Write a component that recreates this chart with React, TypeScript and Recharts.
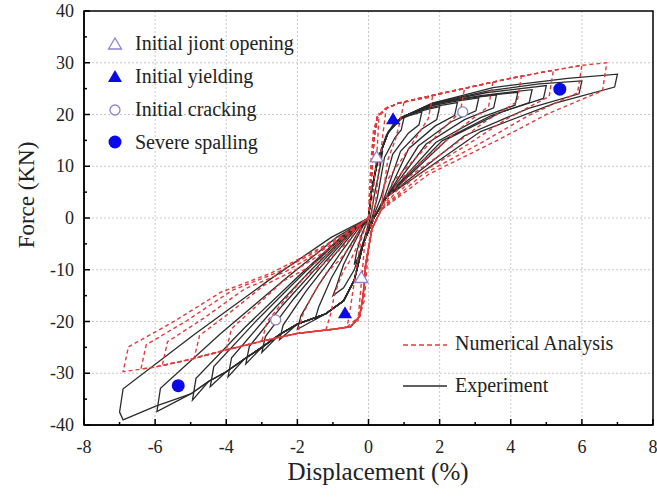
import { ComposedChart, Line, Scatter, XAxis, YAxis, CartesianGrid, ReferenceArea } from "recharts";

type Pt = [number, number];

// experiment cycles (black): origin -> +tip -> origin -> -tip -> origin
const exp0: Pt[] = [[0, 0], [0.1, 6], [0.25, 10.5], [0.4, 13], [0.33, 10], [0.18, 5], [0.05, 0], [-0.12, -4], [-0.28, -7.5], [-0.4, -9], [-0.33, -6.5], [-0.18, -3], [0, 0]];
const exp1: Pt[] = [[0, 0], [0.08, 5], [0.25, 11], [0.5, 16], [0.8, 18.8], [1, 19.5], [0.92, 17], [0.75, 15.6], [0.45, 11.7], [0.25, 4], [0.1, 0], [-0.15, -5], [-0.4, -10], [-0.7, -13.5], [-1, -15], [-0.9, -13.2], [-0.7, -9], [-0.4, -4.8], [-0.15, -1.5], [0, 0]];
const exp2: Pt[] = [[0, 0], [0.08, 5], [0.25, 11], [0.55, 16.5], [0.75, 18.7], [1.2, 19.9], [1.5, 20.5], [1.42, 18], [1.12, 16.4], [0.68, 12.3], [0.35, 4], [0.12, 0], [-0.15, -5], [-0.4, -12], [-0.7, -16], [-1.2, -18.5], [-1.5, -19.5], [-1.4, -17.2], [-1.05, -11.7], [-0.6, -6.2], [-0.22, -2], [0, 0]];
const exp3: Pt[] = [[0, 0], [0.08, 5], [0.25, 11], [0.55, 16.5], [1, 19.7], [1.6, 20.9], [2, 21.5], [1.92, 19], [1.5, 17.2], [0.9, 12.9], [0.45, 4], [0.15, 0], [-0.15, -5], [-0.4, -12], [-0.7, -16], [-1.2, -18.5], [-2, -21.5], [-1.9, -18.9], [-1.4, -12.9], [-0.8, -6.9], [-0.3, -2.2], [0, 0]];
const exp4: Pt[] = [[0, 0], [0.08, 5], [0.25, 11], [0.55, 16.5], [0.9, 19.2], [1.4, 20.8], [2, 21.7], [2.5, 22.3], [2.42, 19.8], [1.88, 17.8], [1.13, 13.4], [0.5, 4], [0.15, 0], [-0.15, -5], [-0.4, -12], [-0.7, -16], [-1.2, -18.5], [-2, -20.5], [-2.5, -23.5], [-2.4, -20.7], [-1.75, -14.1], [-1, -7.5], [-0.38, -2.4], [0, 0]];
const exp5: Pt[] = [[0, 0], [0.08, 5], [0.25, 11], [0.55, 16.5], [0.9, 19.3], [1.6, 21.5], [2.48, 22.6], [3.1, 23.2], [3.02, 20.7], [2.33, 18.6], [1.4, 13.9], [0.5, 4], [0.15, 0], [-0.15, -5], [-0.4, -12], [-0.7, -16], [-1.2, -18.5], [-2, -20.5], [-2.5, -22.5], [-3, -26], [-2.9, -22.9], [-2.1, -15.6], [-1.2, -8.3], [-0.45, -2.6], [0, 0]];
const exp6: Pt[] = [[0, 0], [0.08, 5], [0.25, 11], [0.55, 16.5], [0.9, 19.3], [1.8, 22], [2.88, 23.2], [3.6, 23.8], [3.52, 21.3], [2.7, 19], [1.62, 14.3], [0.5, 4], [0.15, 0], [-0.15, -5], [-0.4, -12], [-0.7, -16], [-1.2, -18.5], [-2, -20.5], [-2.5, -22.5], [-3, -25], [-3.45, -28.2], [-3.35, -24.8], [-2.42, -16.9], [-1.38, -9], [-0.52, -2.8], [0, 0]];
const exp7: Pt[] = [[0, 0], [0.08, 5], [0.25, 11], [0.55, 16.5], [0.9, 19.3], [2.1, 22.5], [3.36, 23.7], [4.2, 24.3], [4.12, 21.8], [3.15, 19.4], [1.89, 14.6], [0.5, 4], [0.15, 0], [-0.15, -5], [-0.4, -12], [-0.7, -16], [-1.2, -18.5], [-2, -20.5], [-2.5, -22.5], [-3, -25], [-3.5, -27.3], [-3.95, -30.7], [-3.85, -27], [-2.77, -18.4], [-1.58, -9.8], [-0.6, -3.1], [0, 0]];
const exp8: Pt[] = [[0, 0], [0.08, 5], [0.25, 11], [0.55, 16.5], [0.9, 19.3], [1.8, 22], [3.1, 23.6], [4.6, 24.8], [4.52, 22.3], [3.45, 19.8], [2.07, 14.9], [0.5, 4], [0.15, 0], [-0.15, -5], [-0.4, -12], [-0.7, -16], [-1.2, -18.5], [-2, -20.5], [-2.5, -22.5], [-3, -25], [-3.5, -27.3], [-4, -29.7], [-4.45, -32.6], [-4.35, -28.7], [-3.12, -19.6], [-1.78, -10.4], [-0.67, -3.3], [0, 0]];
const exp9: Pt[] = [[0, 0], [0.08, 5], [0.25, 11], [0.55, 16.5], [0.9, 19.3], [1.8, 22.1], [3.3, 24.2], [5, 25.6], [4.92, 23.1], [3.75, 20.5], [2.25, 15.4], [0.5, 4], [0.15, 0], [-0.15, -5], [-0.4, -12], [-0.7, -16], [-1.2, -18.5], [-2, -20.5], [-2.5, -22.5], [-3, -25], [-3.5, -27.3], [-4, -29.7], [-4.5, -31.6], [-4.95, -35.2], [-4.85, -31], [-3.47, -21.1], [-1.98, -11.3], [-0.74, -3.5], [0, 0]];
const exp10: Pt[] = [[0, 0], [0.08, 5], [0.25, 11], [0.55, 16.5], [0.9, 19.3], [1.8, 22.2], [3.4, 24.6], [4.8, 25.9], [6, 26.5], [5.92, 24], [4.5, 21.2], [2.7, 15.9], [0.5, 4], [0.15, 0], [-0.15, -5], [-0.4, -12], [-0.7, -16], [-1.2, -18.5], [-2, -20.5], [-2.5, -22.5], [-3, -25], [-3.5, -27.3], [-4, -29.7], [-4.5, -31.6], [-5, -34], [-5.95, -37.4], [-5.85, -32.9], [-4.17, -22.4], [-2.38, -12], [-0.89, -3.7], [0, 0]];
const exp11: Pt[] = [[0, 0], [0.08, 5], [0.25, 11], [0.55, 16.5], [0.9, 19.3], [1.8, 22.2], [3.5, 25.2], [5.6, 27], [7, 27.8], [6.92, 25.3], [5.25, 22.2], [3.15, 16.7], [0.5, 4], [0.15, 0], [-0.15, -5], [-0.4, -12], [-0.7, -16], [-1.2, -18.5], [-2, -20.5], [-2.5, -22.5], [-3, -25], [-3.5, -27.3], [-4, -29.7], [-4.5, -31.6], [-5, -34], [-6, -36.4], [-6.9, -39], [-7, -37.5], [-6.9, -33], [-4.9, -22.5], [-2.8, -12], [-1.05, -3.75], [0, 0]];

// numerical analysis cycles (red dashed)
const numA: Pt[] = [[0, 0], [0.03, 6], [0.08, 12], [0.14, 17], [0.3, 20.3], [0.25, 14], [0.15, 6], [0.05, -3], [-0.05, -10], [-0.12, -16], [-0.3, -20], [-0.22, -14], [-0.12, -6], [0, 0]];
const num0: Pt[] = [[0, 0], [0.05, 4], [0.1, 10], [0.15, 15], [0.25, 19.5], [0.5, 21.2], [0.42, 17], [0.3, 10], [0.2, 3], [0.1, -2], [-0.08, -9], [-0.15, -15], [-0.25, -19], [-0.6, -21], [-0.5, -17], [-0.35, -10], [-0.2, -4], [0, 0]];
const num1: Pt[] = [[0, 0], [0.05, 4], [0.1, 10], [0.15, 15], [0.25, 19.5], [0.5, 21.2], [0.85, 22.2], [1, 22.4], [0.88, 18.4], [0.75, 15], [0.54, 11.2], [0.35, 1.5], [0.1, -2], [-0.08, -9], [-0.15, -15], [-0.25, -19], [-0.5, -21], [-1.2, -21.7], [-1.05, -18.2], [-0.96, -14.8], [-0.72, -10.4], [-0.48, -7.8], [-0.24, -4.3], [-0.2, -1], [0, 0]];
const num2: Pt[] = [[0, 0], [0.05, 4], [0.1, 10], [0.15, 15], [0.25, 19.5], [0.5, 21.2], [0.85, 22.2], [1.8, 23.4], [1.68, 19.2], [1.35, 15.7], [0.97, 11.7], [0.45, 6.6], [0.35, 1.5], [0.1, -2], [-0.08, -9], [-0.15, -15], [-0.25, -19], [-0.5, -21], [-1, -21.5], [-2, -22.3], [-1.85, -18.7], [-1.6, -15.2], [-1.2, -10.7], [-0.8, -8], [-0.4, -4.5], [-0.2, -1], [0, 0]];
const num3: Pt[] = [[0, 0], [0.05, 4], [0.1, 10], [0.15, 15], [0.25, 19.5], [0.5, 21.2], [0.85, 22.2], [2, 24], [2.7, 25], [2.58, 20.5], [2.03, 16.8], [1.46, 12.5], [0.68, 7], [0.35, 1.5], [0.1, -2], [-0.08, -9], [-0.15, -15], [-0.25, -19], [-0.5, -21], [-1, -21.5], [-2, -22.3], [-3, -23.8], [-2.85, -20], [-2.4, -16.2], [-1.8, -11.4], [-1.2, -8.6], [-0.6, -4.8], [-0.2, -1], [0, 0]];
const num4: Pt[] = [[0, 0], [0.05, 4], [0.1, 10], [0.15, 15], [0.25, 19.5], [0.5, 21.2], [0.85, 22.2], [2, 24], [3, 25.5], [3.5, 26.3], [3.38, 21.6], [2.63, 17.6], [1.89, 13.2], [0.88, 7.4], [0.35, 1.5], [0.1, -2], [-0.08, -9], [-0.15, -15], [-0.25, -19], [-0.5, -21], [-1, -21.5], [-2, -22.3], [-3, -23.8], [-4, -25.5], [-3.85, -21.4], [-3.2, -17.3], [-2.4, -12.2], [-1.6, -9.2], [-0.8, -5.1], [-0.2, -1], [0, 0]];
const num5: Pt[] = [[0, 0], [0.05, 4], [0.1, 10], [0.15, 15], [0.25, 19.5], [0.5, 21.2], [0.85, 22.2], [2, 24], [3, 25.5], [4, 27], [4.3, 27.4], [4.18, 22.5], [3.23, 18.4], [2.32, 13.7], [1.08, 7.7], [0.35, 1.5], [0.1, -2], [-0.08, -9], [-0.15, -15], [-0.25, -19], [-0.5, -21], [-1, -21.5], [-2, -22.3], [-3, -23.8], [-4, -25.5], [-4.9, -27], [-4.75, -22.7], [-3.92, -18.4], [-2.94, -13], [-1.96, -9.7], [-0.98, -5.4], [-0.2, -1], [0, 0]];
const num6: Pt[] = [[0, 0], [0.05, 4], [0.1, 10], [0.15, 15], [0.25, 19.5], [0.5, 21.2], [0.85, 22.2], [2, 24], [3, 25.5], [4, 27], [5, 28.3], [5.2, 28.6], [5.08, 23.5], [3.9, 19.2], [2.81, 14.3], [1.3, 8], [0.35, 1.5], [0.1, -2], [-0.08, -9], [-0.15, -15], [-0.25, -19], [-0.5, -21], [-1, -21.5], [-2, -22.3], [-3, -23.8], [-4, -25.5], [-5, -27.3], [-5.8, -28.5], [-5.65, -23.9], [-4.64, -19.4], [-3.48, -13.7], [-2.32, -10.3], [-1.16, -5.7], [-0.2, -1], [0, 0]];
const num7: Pt[] = [[0, 0], [0.05, 4], [0.1, 10], [0.15, 15], [0.25, 19.5], [0.5, 21.2], [0.85, 22.2], [2, 24], [3, 25.5], [4, 27], [5, 28.3], [6, 29.5], [5.88, 24.2], [4.5, 19.8], [3.24, 14.8], [1.5, 8.3], [0.35, 1.5], [0.1, -2], [-0.08, -9], [-0.15, -15], [-0.25, -19], [-0.5, -21], [-1, -21.5], [-2, -22.3], [-3, -23.8], [-4, -25.5], [-5, -27.3], [-6, -28.8], [-6.4, -29.2], [-6.25, -24.5], [-5.12, -19.9], [-3.84, -14], [-2.56, -10.5], [-1.28, -5.8], [-0.2, -1], [0, 0]];
const num8: Pt[] = [[0, 0], [0.05, 4], [0.1, 10], [0.15, 15], [0.25, 19.5], [0.5, 21.2], [0.85, 22.2], [2, 24], [3, 25.5], [4, 27], [5, 28.3], [6, 29.5], [6.7, 30], [6.58, 24.6], [5.03, 20.1], [3.62, 15], [1.68, 8.4], [0.35, 1.5], [0.1, -2], [-0.08, -9], [-0.15, -15], [-0.25, -19], [-0.5, -21], [-1, -21.5], [-2, -22.3], [-3, -23.8], [-4, -25.5], [-5, -27.3], [-6, -28.8], [-6.9, -29.7], [-6.75, -24.9], [-5.52, -20.2], [-4.14, -14.3], [-2.76, -10.7], [-1.38, -5.9], [-0.2, -1], [0, 0]];

const experimentCycles = [exp0, exp1, exp2, exp3, exp4, exp5, exp6, exp7, exp8, exp9, exp10, exp11];
const numericalCycles = [numA, num0, num1, num2, num3, num4, num5, num6, num7, num8];

// damage state markers
const jointOpening: Pt[] = [[0.23, 11.8], [-0.2, -11.5]];
const yielding: Pt[] = [[0.69, 19.1], [-0.66, -18.4]];
const cracking: Pt[] = [[2.65, 20.5], [-2.61, -19.7]];
const spalling: Pt[] = [[5.38, 24.9], [-5.35, -32.4]];

const xTicks = [-8, -7, -6, -5, -4, -3, -2, -1, 0, 1, 2, 3, 4, 5, 6, 7, 8];
const yTicks = [-40, -35, -30, -25, -20, -15, -10, -5, 0, 5, 10, 15, 20, 25, 30, 35, 40];
const xGrid = [-6, -4, -2, 0, 2, 4, 6];
const yGrid = [-30, -20, -10, 0, 10, 20, 30];

const FONT = '"Liberation Serif", "Times New Roman", Tinos, monospace';
const BLUE = "#0a0ae6";
const OPEN = "#8c84cc";
const RED = "#e23b3b";
const INK = "#2b2b2b";

const toRows = (pts: Pt[]) => pts.map(([x, y]) => ({ x, y }));

const XTick = (props: any) => {
  const { x, y, payload } = props;
  const v = payload.value;
  const major = v % 2 === 0;
  return (
    <g>
      <line x1={x} x2={x} y1={y} y2={y - (major ? 6 : 3)} stroke="#000" strokeWidth={1.5} />
      {major && (
        <text x={x} y={y + 28} textAnchor="middle" style={{ fontFamily: FONT, fontSize: 18 }} fill="#222">
          {v}
        </text>
      )}
    </g>
  );
};

const YTick = (props: any) => {
  const { x, y, payload } = props;
  const v = payload.value;
  const major = v % 10 === 0;
  return (
    <g>
      <line x1={x} x2={x + (major ? 6 : 3)} y1={y} y2={y} stroke="#000" strokeWidth={1.5} />
      {major && (
        <text x={x - 10} y={y + 6} textAnchor="end" style={{ fontFamily: FONT, fontSize: 18 }} fill="#222">
          {v}
        </text>
      )}
    </g>
  );
};

const openTriangle = (p: any) => (
  <path d={`M${p.cx},${p.cy - 6} L${p.cx + 6.5},${p.cy + 5} L${p.cx - 6.5},${p.cy + 5} Z`} fill="#fff" stroke={OPEN} strokeWidth={1.3} />
);
const filledTriangle = (p: any) => (
  <path d={`M${p.cx},${p.cy - 7} L${p.cx + 7},${p.cy + 5} L${p.cx - 7},${p.cy + 5} Z`} fill={BLUE} />
);
const openCircle = (p: any) => <circle cx={p.cx} cy={p.cy} r={5} fill="#fff" stroke={OPEN} strokeWidth={1.3} />;
const filledCircle = (p: any) => <circle cx={p.cx} cy={p.cy} r={6.5} fill={BLUE} />;

const legendText: React.CSSProperties = {
  position: "absolute",
  fontFamily: FONT,
  fontSize: 20,
  color: "#222",
  whiteSpace: "nowrap",
  lineHeight: "20px",
};

export default function App() {
  return (
    <div style={{ position: "absolute", left: 0, top: 0, width: 657, height: 500, background: "#fff" }}>
      <ComposedChart width={657} height={500} margin={{ top: 11, right: 4, bottom: 0, left: 0 }}>
        <CartesianGrid stroke="#c8c8c8" strokeDasharray="2 2" horizontalValues={yGrid} verticalValues={xGrid} />
        <XAxis
          type="number"
          dataKey="x"
          domain={[-8, 8]}
          ticks={xTicks}
          interval={0}
          height={75}
          tickSize={0}
          tickMargin={0}
          tickLine={false}
          tick={<XTick />}
          axisLine={{ stroke: "#000", strokeWidth: 1.5 }}
          allowDataOverflow
        />
        <YAxis
          type="number"
          dataKey="y"
          domain={[-40, 40]}
          ticks={yTicks}
          interval={0}
          width={84}
          tickSize={0}
          tickMargin={0}
          tickLine={false}
          tick={<YTick />}
          axisLine={{ stroke: "#000", strokeWidth: 1.5 }}
          allowDataOverflow
        />
        <ReferenceArea x1={-8} x2={8} y1={-40} y2={40} fill="none" stroke="#000" strokeWidth={1.5} ifOverflow="visible" />
        {experimentCycles.map((c, i) => (
          <Line
            key={"e" + i}
            data={toRows(c)}
            dataKey="y"
            type="linear"
            stroke={INK}
            strokeWidth={1.3}
            dot={false}
            activeDot={false}
            isAnimationActive={false}
          />
        ))}
        {numericalCycles.map((c, i) => (
          <Line
            key={"n" + i}
            data={toRows(c)}
            dataKey="y"
            type="linear"
            stroke={RED}
            strokeWidth={1.4}
            strokeDasharray="4 3"
            dot={false}
            activeDot={false}
            isAnimationActive={false}
          />
        ))}
        <Scatter data={toRows(jointOpening)} dataKey="y" shape={openTriangle} isAnimationActive={false} />
        <Scatter data={toRows(yielding)} dataKey="y" shape={filledTriangle} isAnimationActive={false} />
        <Scatter data={toRows(cracking)} dataKey="y" shape={openCircle} isAnimationActive={false} />
        <Scatter data={toRows(spalling)} dataKey="y" shape={filledCircle} isAnimationActive={false} />
      </ComposedChart>

      {/* axis titles */}
      <div
        style={{
          position: "absolute",
          left: 27,
          top: 195,
          transform: "translate(-50%, -50%) rotate(-90deg)",
          fontFamily: FONT,
          fontSize: 23,
          color: "#222",
          whiteSpace: "nowrap",
        }}
      >
        Force (KN)
      </div>
      <div
        style={{
          position: "absolute",
          left: 378,
          top: 472,
          transform: "translate(-50%, -50%)",
          fontFamily: FONT,
          fontSize: 25,
          color: "#222",
          whiteSpace: "nowrap",
        }}
      >
        Displacement (%)
      </div>

      {/* marker legend */}
      <svg style={{ position: "absolute", left: 100, top: 30 }} width={32} height={125}>
        {openTriangle({ cx: 15, cy: 14 })}
        {filledTriangle({ cx: 15, cy: 47 })}
        {openCircle({ cx: 15, cy: 80 })}
        {filledCircle({ cx: 15, cy: 112 })}
      </svg>
      <div style={{ ...legendText, left: 135, top: 33 }}>Initial jiont opening</div>
      <div style={{ ...legendText, left: 135, top: 66 }}>Initial yielding</div>
      <div style={{ ...legendText, left: 135, top: 99 }}>Initial cracking</div>
      <div style={{ ...legendText, left: 135, top: 132 }}>Severe spalling</div>

      {/* series legend */}
      <svg style={{ position: "absolute", left: 400, top: 335 }} width={50} height={60}>
        <line x1={3} x2={47} y1={10} y2={10} stroke={RED} strokeWidth={1.5} strokeDasharray="5 3" />
        <line x1={3} x2={47} y1={51} y2={51} stroke={INK} strokeWidth={1.3} />
      </svg>
      <div style={{ ...legendText, left: 455, top: 333 }}>Numerical Analysis</div>
      <div style={{ ...legendText, left: 455, top: 375 }}>Experiment</div>
    </div>
  );
}
